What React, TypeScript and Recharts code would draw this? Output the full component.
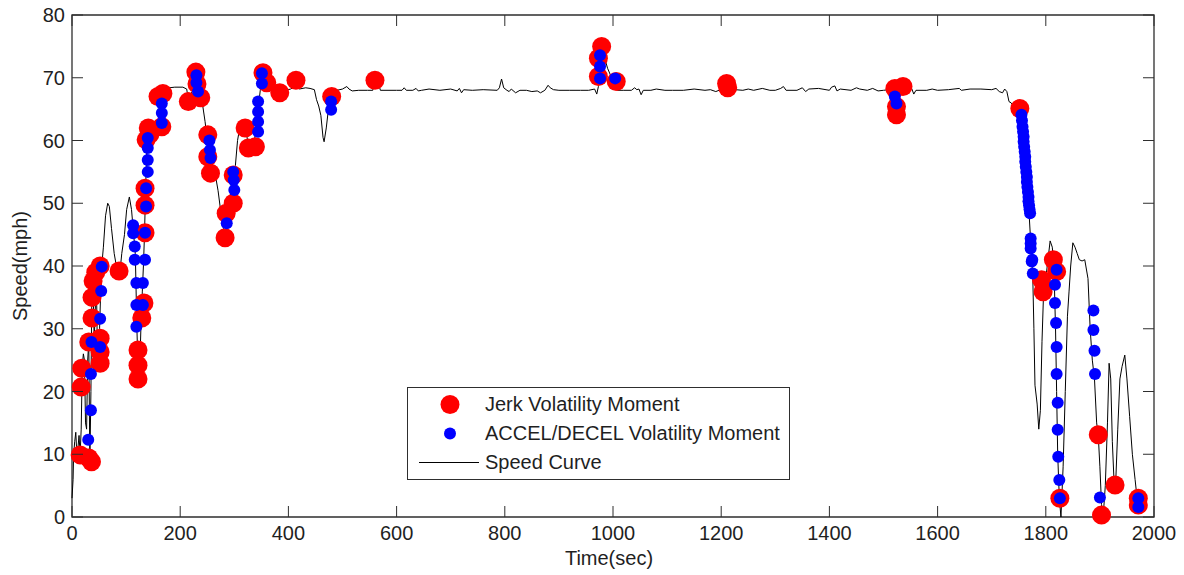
import { ComposedChart, Line, Scatter, XAxis, YAxis, ReferenceArea } from 'recharts';

// [time (sec), speed (mph)]
const speedCurve: [number, number][] = [
  [0, 3], [2, 6], [3, 10], [5, 12], [7, 13.5], [9, 10], [11, 11], [13, 13], [15, 10], [17, 14],
  [19, 24], [21, 26], [23, 25], [25, 15], [27, 14], [29, 25], [31, 28], [33, 8.5], [35, 20], [37, 39],
  [39, 37], [41, 28], [43, 33], [45, 38], [47, 26], [49, 24], [51, 30], [53, 36], [55, 40], [58, 43],
  [62, 48], [66, 50], [69, 49.5], [73, 46], [78, 42], [84, 39], [88, 38.5], [92, 42], [97, 45], [101, 49],
  [106, 51], [110, 49], [114, 45], [117, 42], [120, 30], [123, 21], [126, 26], [128, 32], [130, 36], [132, 40],
  [134, 45], [136, 52], [138, 58], [140, 61.5], [143, 59], [146, 61], [150, 60], [155, 62], [160, 61.5], [163, 64],
  [166, 67.5], [170, 68.3], [190, 68.5], [205, 68.5], [212, 68.2], [216, 66], [220, 67.5], [224, 68], [228, 71], [232, 70],
  [236, 68], [240, 66.5], [246, 63], [250, 60], [254, 59], [258, 57], [262, 55], [264, 56], [266, 54], [270, 52],
  [276, 48], [280, 46], [283, 44.5], [286, 48], [289, 46.5], [292, 50], [296, 55], [299, 53], [302, 56], [306, 60],
  [310, 62], [314, 61.5], [318, 61], [322, 61.5], [326, 59], [329, 58.5], [332, 60], [336, 59], [340, 62], [344, 65],
  [348, 68], [352, 70.5], [356, 69], [360, 70], [364, 69], [370, 69.5], [376, 68.5], [380, 67.5], [384, 67], [388, 67.8],
  [396, 68], [404, 68.2], [410, 68.5], [413, 69.5], [416, 68.6], [420, 68.2], [432, 68.4], [440, 68.3], [448, 68.1], [452, 66.5],
  [456, 65.5], [460, 64], [464, 60.5], [466, 59.8], [470, 62], [474, 65], [478, 67.5], [482, 68], [490, 68], [500, 68.2],
  [508, 68.6], [512, 68.2], [518, 67.9], [530, 68], [546, 68], [556, 68], [560, 69.8], [563, 69.2], [566, 69.4], [570, 68],
  [600, 68], [610, 68], [614, 68.4], [618, 68], [630, 68], [636, 68.3], [640, 67.9], [646, 68], [660, 68.2], [680, 68],
  [700, 68.2], [712, 67.9], [716, 68.3], [720, 67.6], [724, 68.1], [740, 68], [760, 68.1], [786, 68], [790, 68.4], [794, 69.8],
  [798, 68.4], [804, 68], [808, 67.8], [812, 68.2], [820, 67.6], [828, 68], [840, 68], [850, 67.8], [860, 67.9], [866, 67.6],
  [874, 68], [880, 68.8], [884, 68.4], [890, 68.1], [900, 68], [920, 68], [940, 68], [955, 68], [966, 68.2], [970, 67.4],
  [973, 68.6], [976, 72], [979, 74.6], [985, 73], [990, 71.5], [995, 70.5], [1000, 70], [1004, 68.5], [1008, 68], [1020, 68],
  [1034, 68], [1040, 68.4], [1044, 68.1], [1048, 68.2], [1052, 67.3], [1056, 68], [1070, 68], [1080, 68.2], [1096, 68], [1110, 68],
  [1130, 68], [1150, 68.2], [1170, 68], [1180, 68.1], [1190, 67.8], [1196, 68], [1204, 68.2], [1210, 69.4], [1214, 68.4], [1218, 67.8],
  [1226, 68.1], [1240, 68], [1250, 68.2], [1260, 68], [1276, 68.3], [1290, 68], [1300, 68], [1310, 68.3], [1315, 68.6], [1320, 68],
  [1340, 68], [1350, 68.4], [1356, 67.8], [1362, 68.2], [1380, 68.3], [1400, 68], [1404, 68.5], [1410, 68.7], [1414, 67.9], [1420, 68.2],
  [1440, 68], [1450, 68.4], [1456, 68.2], [1470, 68], [1480, 68.3], [1490, 67.9], [1500, 68], [1510, 68.1], [1518, 68], [1521, 66],
  [1524, 64], [1527, 66.5], [1530, 68.5], [1534, 68.7], [1538, 68.2], [1546, 68], [1552, 68.3], [1556, 67.4], [1560, 68], [1580, 68],
  [1590, 68.2], [1600, 68], [1620, 68.1], [1640, 68.3], [1644, 68], [1660, 68.2], [1680, 68.2], [1700, 68.1], [1708, 68.3], [1714, 67.8],
  [1720, 67.6], [1724, 68.2], [1728, 67.8], [1732, 66.2], [1736, 66], [1740, 65.5], [1746, 65], [1752, 64.5], [1756, 62], [1760, 59],
  [1764, 55], [1768, 50], [1772, 44], [1776, 38], [1778, 30], [1780, 21], [1784, 18], [1787, 14], [1790, 17], [1793, 28],
  [1796, 36], [1800, 38], [1804, 41], [1808, 44], [1812, 43], [1815, 40], [1818, 30], [1820, 20], [1822, 10], [1825, 3],
  [1828, 0], [1832, 8], [1836, 20], [1840, 32], [1843, 36], [1846, 40], [1850, 43.7], [1854, 43], [1858, 42], [1862, 41],
  [1867, 40.8], [1872, 41], [1878, 38], [1882, 30], [1886, 25], [1890, 22], [1894, 15], [1897, 13], [1900, 8], [1903, 2],
  [1906, 0], [1910, 5], [1914, 15], [1917, 24.5], [1920, 22], [1923, 12], [1926, 6], [1929, 5], [1933, 14], [1937, 22],
  [1941, 24], [1946, 25.8], [1950, 22], [1955, 16], [1960, 10], [1965, 6], [1970, 2], [1973, 0.5],
];

// jerk volatility moments (large red markers)
const jerkMoments: [number, number][] = [
  [17, 20.7], [18, 23.7], [15, 9.9], [31, 9.4], [36, 8.8], [31, 27.9], [37, 31.7], [37, 35], [39, 37.6], [44, 39],
  [52, 40], [52, 28.5], [52, 26.3], [52, 24.5], [87, 39.2], [122, 22], [122, 24.2], [122, 26.6], [129, 31.7], [133, 34.1],
  [135, 45.3], [135, 49.7], [135, 52.4], [137, 60.1], [141, 62], [144, 61], [159, 67], [166, 62.2], [168, 67.5],
  [215, 66.2], [229, 70.9], [231, 69], [238, 66.8], [251, 60.9], [251, 57.4], [256, 54.8], [283, 44.5], [285, 48.4],
  [298, 50], [298, 54.5], [320, 62], [339, 59], [326, 58.8], [353, 70.8], [360, 69.2], [384, 67.6], [414, 69.6],
  [480, 67], [560, 69.6], [973, 70.2], [973, 73.1], [979, 75], [1006, 69.4], [1210, 69.1], [1212, 68.4],
  [1521, 68.3], [1536, 68.6], [1524, 64.1], [1524, 65.4], [1752, 65.1], [1814, 41], [1820, 39.1], [1792, 37.8],
  [1795, 35.9], [1826, 3], [1897, 13.1], [1903, 0.3], [1928, 5.1], [1971, 3], [1971, 1.9],
];

// accel/decel volatility moments (small blue markers)
const accelMoments: [number, number][] = [
  [30, 12.3], [35, 17], [35, 22.8], [36, 27.9], [52, 27.1], [52, 31.6], [54, 36], [55, 39.9],
  [113, 46.5], [113, 45.2], [116, 43.1], [116, 41], [119, 37.3], [131, 37.3], [119, 33.8], [131, 33.8], [119, 30.3],
  [135, 41], [135, 45.3], [137, 49.5], [137, 52.4], [140, 55], [140, 56.9], [140, 58.8], [140, 60.4],
  [166, 65.9], [166, 64.4], [166, 62.8], [230, 70.4], [230, 69.2], [233, 67.8], [254, 60], [255, 58.5], [256, 57.2],
  [286, 46.8], [298, 55], [299, 53.7], [300, 52.1], [344, 66.2], [344, 64.6], [344, 63], [344, 61.4], [351, 70.7], [351, 69.1],
  [479, 66.2], [479, 64.9], [976, 73.6], [976, 71.8], [976, 69.9], [1004, 69.9], [1521, 67], [1524, 65.9],
  [1755, 64.1], [1756, 63.2], [1757, 62.2], [1758, 61.4], [1759, 60.6], [1759, 59.8], [1760, 59], [1761, 58.2], [1762, 57.4],
  [1762, 56.6], [1763, 55.8], [1764, 55], [1765, 54.2], [1765, 53.4], [1766, 52.6], [1767, 51.8], [1768, 51], [1768, 50.3],
  [1769, 49.7], [1770, 49], [1771, 48.4], [1772, 44.4], [1772, 43.6], [1772, 42.8], [1775, 41], [1776, 38.8], [1774, 40.7],
  [1817, 37], [1817, 34.1], [1819, 30.9], [1820, 27.1], [1820, 22.8], [1822, 18.2], [1822, 13.9], [1823, 9.6], [1825, 5.9],
  [1826, 3], [1820, 39.4], [1888, 32.9], [1888, 29.8], [1890, 26.5], [1891, 22.8], [1900, 3.1], [1971, 3], [1971, 1.6],
];

const xTicks = [0, 200, 400, 600, 800, 1000, 1200, 1400, 1600, 1800, 2000];
const yTicks = [0, 10, 20, 30, 40, 50, 60, 70, 80];

const toPoints = (rows: [number, number][]) => rows.map(([t, v]) => ({ t, v }));
const speedData = toPoints(speedCurve);
const jerkData = toPoints(jerkMoments);
const accelData = toPoints(accelMoments);

const FONT = '"Liberation Sans", Arial, sans-serif';
const FONT_SIZE = 20;
const TEXT = '#1f1f1f';
const FRAME = '#2e2e2e';

// plot box in chart coordinates (chart is pulled over the body margin)
const PLOT_TOP = 15;
const PLOT_LEFT = 72;
const PLOT_RIGHT = 1154;
const PLOT_BOTTOM = 517;
const TICK_LEN = 11;

const XTick = ({ x, y, payload }: any) => (
  <g>
    <line x1={x} y1={PLOT_BOTTOM} x2={x} y2={PLOT_BOTTOM - TICK_LEN} stroke={FRAME} />
    <line x1={x} y1={PLOT_TOP} x2={x} y2={PLOT_TOP + TICK_LEN} stroke={FRAME} />
    <text x={x} y={y + 16} textAnchor="middle" dominantBaseline="central" fontSize={FONT_SIZE} fontFamily={FONT} fill={TEXT}>
      {payload.value}
    </text>
  </g>
);

const YTick = ({ x, y, payload }: any) => (
  <g>
    <line x1={PLOT_LEFT} y1={y} x2={PLOT_LEFT + TICK_LEN} y2={y} stroke={FRAME} />
    <line x1={PLOT_RIGHT} y1={y} x2={PLOT_RIGHT - TICK_LEN} y2={y} stroke={FRAME} />
    <text x={x - 7} y={y} textAnchor="end" dominantBaseline="central" fontSize={FONT_SIZE} fontFamily={FONT} fill={TEXT}>
      {payload.value}
    </text>
  </g>
);

const JerkDot = (props: any) => <circle cx={props.cx} cy={props.cy} r={9.5} fill="#ff0000" />;
const AccelDot = (props: any) => <circle cx={props.cx} cy={props.cy} r={6} fill="#0000ff" />;

const legendRows = [
  { label: 'Jerk Volatility Moment', kind: 'jerk' },
  { label: 'ACCEL/DECEL Volatility Moment', kind: 'accel' },
  { label: 'Speed Curve', kind: 'line' },
];

const LegendBox = () => (
  <div
    style={{
      position: 'absolute',
      left: 407,
      top: 387,
      width: 383,
      height: 93,
      boxSizing: 'border-box',
      border: `1px solid ${FRAME}`,
      background: '#fff',
      fontFamily: FONT,
      fontSize: FONT_SIZE,
      color: TEXT,
      paddingTop: 2,
    }}
  >
    {legendRows.map((row) => (
      <div key={row.label} style={{ display: 'flex', alignItems: 'center', height: 29 }}>
        <svg width={77} height={29} style={{ flex: 'none' }}>
          {row.kind === 'jerk' && <circle cx={42} cy={14.5} r={9.5} fill="#ff0000" />}
          {row.kind === 'accel' && <circle cx={42} cy={14.5} r={6} fill="#0000ff" />}
          {row.kind === 'line' && <line x1={11} y1={14.5} x2={71} y2={14.5} stroke="#000" />}
        </svg>
        <span style={{ whiteSpace: 'nowrap' }}>{row.label}</span>
      </div>
    ))}
  </div>
);

export default function App() {
  return (
    <div style={{ position: 'relative', width: 1184, height: 575, margin: '-8px 0 0 -8px' }}>
      <ComposedChart width={1184} height={575} margin={{ top: 15, right: 30, bottom: 13, left: 32 }}>
        <XAxis
          dataKey="t"
          type="number"
          domain={[0, 2000]}
          ticks={xTicks}
          interval={0}
          tickSize={0}
          tickMargin={0}
          axisLine={false}
          tick={<XTick />}
          height={45}
          label={{
            content: ({ viewBox }: any) => (
              <text
                x={viewBox.x + viewBox.width / 2 - 4}
                y={viewBox.y + 41}
                textAnchor="middle"
                dominantBaseline="central"
                fontSize={FONT_SIZE}
                fontFamily={FONT}
                fill={TEXT}
              >
                Time(sec)
              </text>
            ),
          }}
        />
        <YAxis
          dataKey="v"
          type="number"
          domain={[0, 80]}
          ticks={yTicks}
          interval={0}
          tickSize={0}
          tickMargin={0}
          axisLine={false}
          tick={<YTick />}
          width={40}
          label={{
            content: ({ viewBox }: any) => {
              const cx = viewBox.x - 12;
              const cy = viewBox.y + viewBox.height / 2;
              return (
                <text
                  x={cx}
                  y={cy}
                  transform={`rotate(-90 ${cx} ${cy})`}
                  textAnchor="middle"
                  dominantBaseline="central"
                  fontSize={FONT_SIZE}
                  fontFamily={FONT}
                  fill={TEXT}
                >
                  Speed(mph)
                </text>
              );
            },
          }}
        />
        <ReferenceArea x1={0} x2={2000} y1={0} y2={80} fill="none" stroke={FRAME} strokeWidth={1.3} />
        <Scatter data={jerkData} dataKey="v" shape={<JerkDot />} isAnimationActive={false} />
        <Scatter data={accelData} dataKey="v" shape={<AccelDot />} isAnimationActive={false} />
        <Line
          data={speedData}
          dataKey="v"
          type="linear"
          dot={false}
          activeDot={false}
          stroke="#000"
          strokeWidth={1}
          isAnimationActive={false}
        />
      </ComposedChart>
      <LegendBox />
    </div>
  );
}
